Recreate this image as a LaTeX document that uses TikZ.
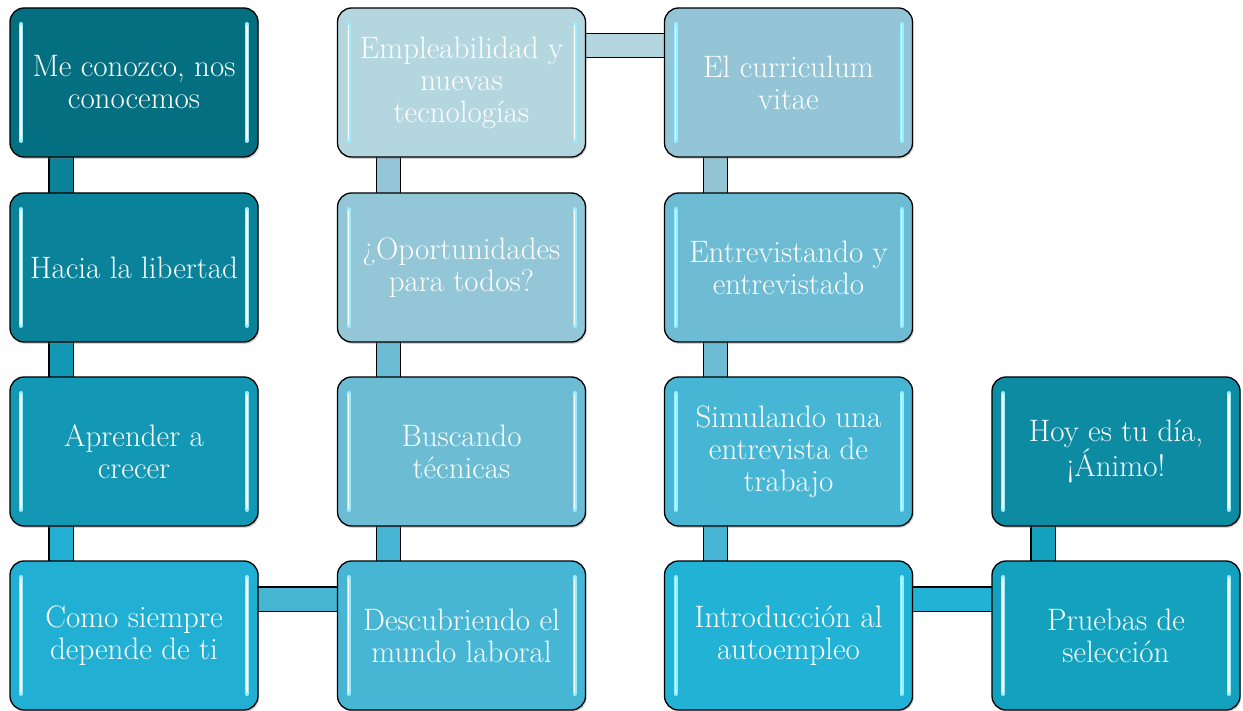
\documentclass[tikz,border=0pt]{standalone}
\usetikzlibrary{shadows}
\pgfdeclarelayer{background}
\pgfsetlayers{background,main}
\definecolor{cA1}{RGB}{3,111,128}
\definecolor{cA2}{RGB}{10,130,153}
\definecolor{cA3}{RGB}{18,152,180}
\definecolor{cA4}{RGB}{33,176,212}
\definecolor{cB4}{RGB}{71,182,213}
\definecolor{cB3}{RGB}{108,188,212}
\definecolor{cB2}{RGB}{147,198,214}
\definecolor{cB1}{RGB}{180,214,223}
\definecolor{cC1}{RGB}{148,197,214}
\definecolor{cC2}{RGB}{109,188,212}
\definecolor{cC3}{RGB}{70,182,212}
\definecolor{cC4}{RGB}{33,178,214}
\definecolor{cD4}{RGB}{19,161,190}
\definecolor{cD3}{RGB}{12,139,163}
\definecolor{hlcol}{RGB}{150,238,255}
\tikzset{
  box/.style={draw=black, line width=1.3pt, rounded corners=14pt,
    minimum width=248pt, minimum height=149pt, inner sep=0pt, outer sep=0pt,
    text=white, align=center, font=\fontsize{31}{32}\selectfont,
    drop shadow={opacity=0.35, shadow xshift=1.2pt, shadow yshift=-1.8pt}},
  conn/.style={draw=black, line width=1.3pt, double=#1, double distance=23pt},
  hl/.style={draw=hlcol, line width=4pt, line cap=round},
  hlc/.style={draw=white, line width=1.4pt, line cap=round},
}
\begin{document}
\begin{tikzpicture}[x=1pt,y=-1pt]
\useasboundingbox (0,0) rectangle (1243,711);
% column 1
\node[box, fill=cA1] (a1) at (134,82.5) {Me conozco, nos\\conocemos};
\node[box, fill=cA2] (a2) at (134,267.5) {Hacia la libertad};
\node[box, fill=cA3] (a3) at (134,451.5) {Aprender a\\crecer};
\node[box, fill=cA4] (a4) at (134,635.5) {Como siempre\\depende de ti};
% column 2
\node[box, fill=cB1] (b1) at (461.5,82.5) {Empleabilidad y\\nuevas\\tecnologías};
\node[box, fill=cB2] (b2) at (461.5,267.5) {¿Oportunidades\\para todos?};
\node[box, fill=cB3] (b3) at (461.5,451.5) {Buscando\\técnicas};
\node[box, fill=cB4] (b4) at (461.5,635.5) {Descubriendo el\\mundo laboral};
% column 3
\node[box, fill=cC1] (c1) at (788.5,82.5) {El curriculum\\vitae};
\node[box, fill=cC2] (c2) at (788.5,267.5) {Entrevistando y\\entrevistado};
\node[box, fill=cC3] (c3) at (788.5,451.5) {Simulando una\\entrevista de\\trabajo};
\node[box, fill=cC4] (c4) at (788.5,635.5) {Introducción al\\autoempleo};
% column 4
\node[box, fill=cD3] (d3) at (1116,451.5) {Hoy es tu día,\\¡Ánimo!};
\node[box, fill=cD4] (d4) at (1116,635.5) {Pruebas de\\selección};
% highlight strips
\foreach \n in {a1,a2,a3,a4,b1,b2,b3,b4,c1,c2,c3,c4,d3,d4}{
  \draw[hl] ([xshift=11pt,yshift=-16pt]\n.north west) -- ([xshift=11pt,yshift=16pt]\n.south west);
  \draw[hl] ([xshift=-11pt,yshift=-16pt]\n.north east) -- ([xshift=-11pt,yshift=16pt]\n.south east);
  \draw[hlc] ([xshift=11pt,yshift=-18pt]\n.north west) -- ([xshift=11pt,yshift=18pt]\n.south west);
  \draw[hlc] ([xshift=-11pt,yshift=-18pt]\n.north east) -- ([xshift=-11pt,yshift=18pt]\n.south east);
}
% connectors
\begin{pgfonlayer}{background}
\draw[conn=cA2] ([xshift=-73pt]a1.south) -- ([xshift=-73pt]a2.north);
\draw[conn=cA3] ([xshift=-73pt]a2.south) -- ([xshift=-73pt]a3.north);
\draw[conn=cA4] ([xshift=-73pt]a3.south) -- ([xshift=-73pt]a4.north);
\draw[conn=cB4] ([yshift=36.5pt]a4.east) -- ([yshift=36.5pt]b4.west);
\draw[conn=cB4] ([xshift=-73pt]b4.north) -- ([xshift=-73pt]b3.south);
\draw[conn=cB3] ([xshift=-73pt]b3.north) -- ([xshift=-73pt]b2.south);
\draw[conn=cB2] ([xshift=-73pt]b2.north) -- ([xshift=-73pt]b1.south);
\draw[conn=cB1] ([yshift=37pt]b1.east) -- ([yshift=37pt]c1.west);
\draw[conn=cC1] ([xshift=-73pt]c1.south) -- ([xshift=-73pt]c2.north);
\draw[conn=cC2] ([xshift=-73pt]c2.south) -- ([xshift=-73pt]c3.north);
\draw[conn=cC3] ([xshift=-73pt]c3.south) -- ([xshift=-73pt]c4.north);
\draw[conn=cC4] ([yshift=36.5pt]c4.east) -- ([yshift=36.5pt]d4.west);
\draw[conn=cD4] ([xshift=-73pt]d4.north) -- ([xshift=-73pt]d3.south);
\end{pgfonlayer}
\end{tikzpicture}
\end{document}
